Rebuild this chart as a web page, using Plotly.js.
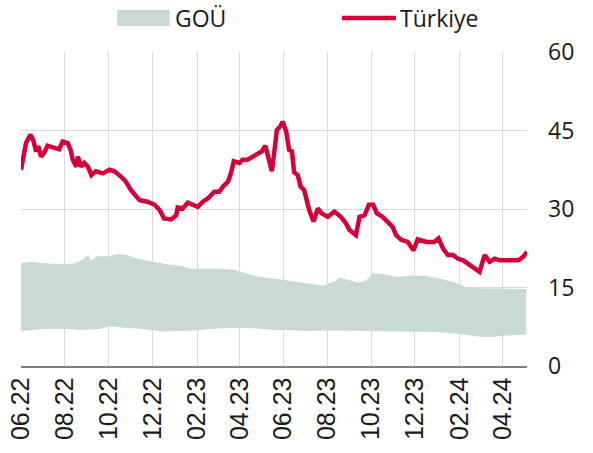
<!DOCTYPE html>
<html><head><meta charset="utf-8">
<script src="https://cdn.plot.ly/plotly-3.0.1.min.js"></script>
<style>html,body{margin:0;padding:0;background:#fff}#chart{width:593px;height:453px}</style>
</head><body><div id="chart"></div>
<script>
const seriesNames = ['GOÜ', 'Türkiye'];

const turkiyeDates = ['2022-06-01','2022-06-03','2022-06-08','2022-06-14','2022-06-18','2022-06-22','2022-06-25','2022-06-29','2022-07-03','2022-07-08','2022-07-17','2022-07-24','2022-07-29','2022-08-05','2022-08-09','2022-08-12','2022-08-17','2022-08-19','2022-08-24','2022-08-28','2022-09-02','2022-09-07','2022-09-13','2022-09-23','2022-10-02','2022-10-09','2022-10-18','2022-10-25','2022-11-01','2022-11-08','2022-11-13','2022-11-24','2022-12-04','2022-12-11','2022-12-17','2022-12-27','2023-01-03','2023-01-05','2023-01-12','2023-01-19','2023-01-26','2023-02-02','2023-02-09','2023-02-16','2023-02-25','2023-03-04','2023-03-09','2023-03-16','2023-03-20','2023-03-24','2023-04-01','2023-04-05','2023-04-12','2023-04-19','2023-04-26','2023-05-02','2023-05-07','2023-05-10','2023-05-16','2023-05-19','2023-05-23','2023-05-28','2023-05-31','2023-06-05','2023-06-09','2023-06-13','2023-06-16','2023-06-21','2023-06-25','2023-06-30','2023-07-03','2023-07-07','2023-07-13','2023-07-19','2023-07-24','2023-08-02','2023-08-11','2023-08-20','2023-08-27','2023-09-01','2023-09-10','2023-09-15','2023-09-22','2023-09-28','2023-10-04','2023-10-09','2023-10-17','2023-10-24','2023-10-31','2023-11-05','2023-11-12','2023-11-21','2023-11-29','2023-12-05','2023-12-17','2023-12-28','2024-01-03','2024-01-09','2024-01-16','2024-01-23','2024-01-30','2024-02-06','2024-02-15','2024-02-22','2024-02-29','2024-03-07','2024-03-14','2024-03-21','2024-03-28','2024-04-11','2024-04-23','2024-04-30','2024-05-05'];
const turkiyeValues = [37.5,39.1,42.6,44.2,43.2,41.0,42.0,40.0,40.7,42.1,41.8,41.4,42.9,42.6,41.3,39.4,38.1,40.0,38.1,38.8,38.1,36.5,37.2,36.8,37.5,37.2,36.2,35.2,33.6,32.4,31.7,31.4,30.8,29.8,28.2,28.0,28.8,30.3,30.1,31.2,30.8,30.4,31.4,32.0,33.3,33.3,34.3,35.2,36.8,39.1,38.8,39.4,39.4,40.0,40.4,41.0,42.1,40.7,37.2,40.4,45.1,45.8,46.7,44.8,41.3,41.0,37.0,36.5,34.3,33.6,31.7,29.8,27.6,30.1,29.2,28.5,29.5,28.5,27.3,26.0,25.0,28.5,28.8,30.8,30.8,29.2,28.5,27.6,26.6,25.0,24.1,23.7,22.1,24.2,23.7,23.7,24.4,22.5,21.2,21.2,20.5,20.2,19.3,18.6,18.0,21.2,19.9,20.5,20.2,20.2,20.2,20.9,21.8];

const gouUpperDates = ['2022-06-01','2022-06-15','2022-07-08','2022-07-31','2022-08-14','2022-08-24','2022-09-03','2022-09-06','2022-09-16','2022-09-30','2022-10-13','2022-10-27','2022-11-10','2022-11-24','2022-12-08','2022-12-22','2023-01-10','2023-01-24','2023-02-11','2023-03-06','2023-03-25','2023-04-08','2023-04-22','2023-05-06','2023-05-20','2023-05-31','2023-06-28','2023-07-26','2023-08-11','2023-08-18','2023-08-30','2023-09-13','2023-09-24','2023-10-03','2023-10-22','2023-11-05','2023-11-28','2023-12-17','2024-01-04','2024-01-23','2024-02-10','2024-03-09','2024-04-01','2024-05-04'];
const gouUpperValues = [19.7,19.9,19.6,19.5,19.6,20.2,21.2,20.1,21.0,20.9,21.4,21.2,20.5,20.1,19.7,19.4,19.1,18.6,18.6,18.6,18.4,17.8,17.2,16.9,16.7,16.5,15.9,15.4,16.1,16.9,16.5,15.9,16.3,17.7,17.5,17.0,17.3,17.2,16.7,16.1,15.1,14.8,14.8,14.7];

const gouLowerDates = ['2022-06-01','2022-06-20','2022-07-08','2022-07-31','2022-08-24','2022-09-20','2022-10-02','2022-10-23','2022-11-15','2022-12-13','2022-12-31','2023-01-28','2023-02-25','2023-03-25','2023-04-22','2023-05-20','2023-06-09','2023-06-28','2023-08-13','2023-09-29','2023-11-14','2023-12-31','2024-01-28','2024-02-24','2024-03-14','2024-04-01','2024-05-04'];
const gouLowerValues = [6.7,6.9,7.1,7.1,6.9,7.1,7.6,7.3,7.1,6.6,6.7,6.8,7.1,7.3,7.2,6.9,6.9,6.7,6.8,6.7,6.7,6.5,6.2,5.7,5.5,5.8,6.0];

const tickDates = ['2022-06-01','2022-08-01','2022-10-01','2022-12-01','2023-02-01','2023-04-01','2023-06-01','2023-08-01','2023-10-01','2023-12-01','2024-02-01','2024-04-01'];
const tickLabels = ['06.22','08.22','10.22','12.22','02.23','04.23','06.23','08.23','10.23','12.23','02.24','04.24'];
const yTicks = [0, 15, 30, 45, 60];
const yGridTicks = [15, 30, 45];

const bandColor = '#c9d9d5';
const redColor = '#d5003a';

const traces = [
  {x: gouLowerDates, y: gouLowerValues, type: 'scatter', mode: 'lines', line: {width: 0, color: bandColor}, hoverinfo: 'skip', showlegend: false},
  {x: gouUpperDates, y: gouUpperValues, type: 'scatter', mode: 'lines', fill: 'tonexty', fillcolor: bandColor, line: {width: 0, color: bandColor}, name: seriesNames[0], showlegend: false},
  {x: turkiyeDates, y: turkiyeValues, type: 'scatter', mode: 'lines', line: {width: 4.5, color: redColor}, name: seriesNames[1], showlegend: false},
  {x: [tickDates[0]], y: [null], yaxis: 'y2', type: 'scatter', mode: 'lines', showlegend: false, hoverinfo: 'skip'}
];

const layout = {
  width: 593, height: 453,
  margin: {l: 21, r: 66, t: 52, b: 87},
  paper_bgcolor: '#fff', plot_bgcolor: '#fff',
  showlegend: false,
  font: {family: 'Open Sans', color: '#1a1a1a', size: 23},
  xaxis: {
    type: 'date', range: ['2022-06-01', '2024-05-05'],
    tickvals: tickDates, ticktext: tickLabels, tickangle: -90,
    tickfont: {family: 'Liberation Sans', size: 25, color: '#1a1a1a'},
    showgrid: true, gridcolor: '#d9d9d9', gridwidth: 1,
    showline: true, linecolor: '#7f7f7f', linewidth: 1.5,
    ticks: '', zeroline: false, fixedrange: true
  },
  yaxis: {
    range: [0, 60], side: 'right', tickvals: yTicks,
    tickfont: {family: 'Open Sans', size: 23, color: '#1a1a1a'},
    showgrid: false, zeroline: false, ticks: '', ticklabelstandoff: 20, showline: false
  },
  yaxis2: {
    range: [0, 60], overlaying: 'y', side: 'right', tickvals: yGridTicks,
    showticklabels: false, showgrid: true, gridcolor: '#d9d9d9', gridwidth: 1, zeroline: false, ticks: ''
  },
  shapes: [
    {type: 'rect', xref: 'paper', yref: 'paper', x0: 0.190, x1: 0.294, y0: 1.083, y1: 1.134, fillcolor: bandColor, line: {width: 0}},
    {type: 'line', xref: 'paper', yref: 'paper', x0: 0.634, x1: 0.741, y0: 1.108, y1: 1.108, line: {color: redColor, width: 4.5}}
  ],
  annotations: [
    {xref: 'paper', yref: 'paper', x: 0.300, y: 1.108, xanchor: 'left', yanchor: 'middle', text: seriesNames[0], showarrow: false, font: {family: 'Open Sans', size: 23, color: '#1a1a1a'}},
    {xref: 'paper', yref: 'paper', x: 0.745, y: 1.108, xanchor: 'left', yanchor: 'middle', text: seriesNames[1], showarrow: false, font: {family: 'Open Sans', size: 23, color: '#1a1a1a'}}
  ]
};

Plotly.newPlot('chart', traces, layout, {displayModeBar: false, staticPlot: true});
</script></body></html>
